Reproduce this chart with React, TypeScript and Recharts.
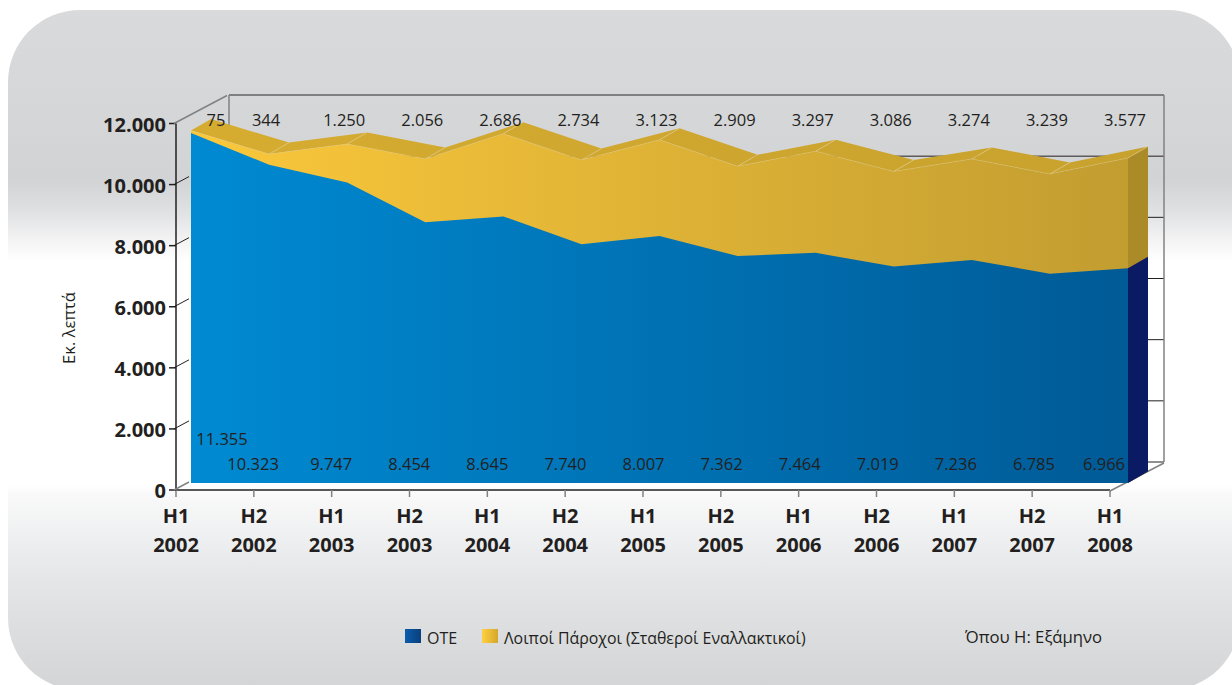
import { AreaChart, Area, LineChart, Line, XAxis, YAxis, CartesianGrid, ReferenceLine, LabelList } from 'recharts';

const halves = ['H1', 'H2', 'H1', 'H2', 'H1', 'H2', 'H1', 'H2', 'H1', 'H2', 'H1', 'H2', 'H1'];
const years = ['2002', '2002', '2003', '2003', '2004', '2004', '2005', '2005', '2006', '2006', '2007', '2007', '2008'];
const ote = [11355, 10323, 9747, 8454, 8645, 7740, 8007, 7362, 7464, 7019, 7236, 6785, 6966];
const others = [75, 344, 1250, 2056, 2686, 2734, 3123, 2909, 3297, 3086, 3274, 3239, 3577];
const yTicks = [0, 2000, 4000, 6000, 8000, 10000, 12000];

const W = 1232;
const H = 685;
const DEPTH_X = 20;
const DEPTH_Y = -11.5;
const RIBBON_BOTTOM = 483;
const TEXT = '#231f20';
const GREY = '#808285';
const FONT = '"Open Sans", sans-serif';

const data = ote.map((v, i) => ({
    key: `${halves[i]} ${years[i]} ${i}`,
    half: halves[i],
    year: years[i],
    ote: v,
    other: others[i],
    total: v + others[i],
}));

const fmt = (v: number) => String(v).replace(/\B(?=(\d{3})+$)/g, '.');

const layer: React.CSSProperties = { position: 'absolute', left: 0, top: 0 };

function YTick({ x, y, payload }: any) {
    const isTop = payload.value === 12000;
    const isZero = payload.value === 0;
    return (
        <g>
            <line
                x1={x + 7}
                y1={y}
                x2={x + 7 + (isTop ? 53 : 15)}
                y2={y + (isTop ? -28 : -8)}
                stroke={isTop || isZero ? GREY : TEXT}
                strokeWidth={isTop || isZero ? 1.5 : 1}
            />
            <text x={x - 1} y={y + 8} textAnchor="end" fontFamily={FONT} fontWeight={700} fontSize={20} fill={TEXT}>
                {fmt(payload.value)}
            </text>
        </g>
    );
}

function XTick({ x, y, payload, index }: any) {
    const row = data[index];
    if (!row) return null;
    return (
        <g>
            {index === data.length - 1 && <line x1={x} y1={y - 8} x2={x + 54} y2={y - 36} stroke={GREY} strokeWidth={1.5} />}
            <text x={x} y={y + 24} textAnchor="middle" fontFamily={FONT} fontWeight={700} fontSize={20} fill={TEXT}>
                {row.half}
            </text>
            <text x={x} y={y + 53} textAnchor="middle" fontFamily={FONT} fontWeight={700} fontSize={20} fill={TEXT}>
                {row.year}
            </text>
        </g>
    );
}

// top face of the extruded ribbon, one segment per point
function TopFace({ cx, cy, index, points }: any) {
    const next = points && points[index + 1];
    return (
        <g key={index}>
            {next && (
                <polygon
                    points={`${cx},${cy} ${next.x},${next.y} ${next.x + DEPTH_X},${next.y + DEPTH_Y} ${cx + DEPTH_X},${cy + DEPTH_Y}`}
                    fill="url(#topFace)"
                />
            )}
            {!next && (
                <polygon
                    points={`${cx},${cy} ${cx + DEPTH_X},${cy + DEPTH_Y} ${cx + DEPTH_X},${RIBBON_BOTTOM + DEPTH_Y} ${cx},${RIBBON_BOTTOM}`}
                    fill="#ab8a28"
                />
            )}
            {index > 0 && (
                <line x1={cx} y1={cy} x2={cx + DEPTH_X} y2={cy + DEPTH_Y} stroke="#e6cf8c" strokeWidth={0.6} />
            )}
        </g>
    );
}

function NavySide({ cx, cy, index, points }: any) {
    if (!points || index !== points.length - 1) return <g key={index} />;
    return (
        <polygon
            key={index}
            points={`${cx},${cy} ${cx + DEPTH_X},${cy + DEPTH_Y} ${cx + DEPTH_X},${RIBBON_BOTTOM + DEPTH_Y} ${cx},${RIBBON_BOTTOM}`}
            fill="#0a1a63"
        />
    );
}

function TopLabel({ x, index, value }: any) {
    const dx = index === 0 ? 25 : -3;
    return (
        <text x={x + dx} y={126} textAnchor="middle" fontFamily={FONT} fontSize={16.5} fill={TEXT}>
            {fmt(value)}
        </text>
    );
}

function BottomLabel({ x, index, value }: any) {
    const dx = index === 0 ? 31 : index === data.length - 1 ? -24 : -16;
    return (
        <text x={x + dx} y={index === 0 ? 445 : 470} textAnchor="middle" fontFamily={FONT} fontSize={16.5} fill={TEXT}>
            {fmt(value)}
        </text>
    );
}

export default function App() {
    return (
        <div style={{ position: 'absolute', left: 0, top: 0, width: W, height: H, overflow: 'hidden', background: '#fff' }}>
            <div
                style={{
                    position: 'absolute',
                    left: 8,
                    top: 10,
                    width: W,
                    height: 680,
                    borderRadius: 72,
                    background:
                        'linear-gradient(to bottom, #d9dadc 0%, #d5d6d8 16%, #d2d3d5 25%, #dfe0e1 29.4%, #f3f3f4 33.8%, #ffffff 37%, #ffffff 69.9%, #f9f9f9 71.3%, #f0f1f2 76.5%, #e6e7e8 83%, #dedfe0 89.7%, #d4d5d7 99.3%)',
                }}
            />

            {/* back wall */}
            <div style={layer}>
                <LineChart width={W} height={H} data={data} margin={{ left: 229, right: W - 1164, top: 95, bottom: H - 462 }}>
                    <XAxis dataKey="key" hide />
                    <YAxis hide domain={[0, 12000]} ticks={yTicks} />
                    <CartesianGrid vertical={false} stroke={TEXT} strokeWidth={1} />
                    <ReferenceLine y={12000} stroke={GREY} strokeWidth={1.5} />
                    <ReferenceLine x={data[0].key} stroke={GREY} strokeWidth={1.5} />
                    <ReferenceLine x={data[data.length - 1].key} stroke={GREY} strokeWidth={1.5} />
                    <Line dataKey="ote" stroke="none" dot={false} isAnimationActive={false} />
                </LineChart>
            </div>

            {/* front axes */}
            <div style={layer}>
                <LineChart width={W} height={H} data={data} margin={{ left: 96, right: W - 1110, top: 123.5, bottom: 135 }}>
                    <XAxis
                        dataKey="key"
                        height={60}
                        interval={0}
                        padding={{ left: 0, right: 0 }}
                        scale="point"
                        axisLine={{ stroke: TEXT, strokeWidth: 1.5 }}
                        tickLine={{ stroke: GREY, strokeWidth: 1.5 }}
                        tickSize={7}
                        tick={<XTick />}
                    />
                    <YAxis
                        width={80}
                        domain={[0, 12000]}
                        ticks={yTicks}
                        interval={0}
                        axisLine={{ stroke: TEXT, strokeWidth: 1.5 }}
                        tickLine={{ stroke: TEXT, strokeWidth: 1.5 }}
                        tickSize={7}
                        tick={<YTick />}
                    />
                    <Line dataKey="ote" stroke="none" dot={false} isAnimationActive={false} />
                </LineChart>
            </div>

            {/* ribbon top and side faces */}
            <div style={layer}>
                <LineChart width={W} height={H} data={data} margin={{ left: 191, right: W - 1128, top: 113, bottom: H - RIBBON_BOTTOM }}>
                    <defs>
                        <linearGradient id="topFace" gradientUnits="userSpaceOnUse" x1="191" y1="0" x2="1148" y2="0">
                            <stop offset="0%" stopColor="#d6ac30" />
                            <stop offset="100%" stopColor="#c8a22e" />
                        </linearGradient>
                    </defs>
                    <XAxis dataKey="key" hide scale="point" />
                    <YAxis hide domain={[0, 12000]} />
                    <Line dataKey="total" stroke="none" dot={<TopFace />} isAnimationActive={false} />
                    <Line dataKey="ote" stroke="none" dot={<NavySide />} isAnimationActive={false} />
                </LineChart>
            </div>

            {/* ribbon front face */}
            <div style={layer}>
                <AreaChart width={W} height={H} data={data} margin={{ left: 191, right: W - 1128, top: 113, bottom: H - RIBBON_BOTTOM }}>
                    <defs>
                        <linearGradient id="goldFront" x1="0" y1="0" x2="1" y2="0">
                            <stop offset="0%" stopColor="#fbc83b" />
                            <stop offset="100%" stopColor="#c29d30" />
                        </linearGradient>
                        <linearGradient id="blueFront" x1="0" y1="0" x2="1" y2="0">
                            <stop offset="0%" stopColor="#008ad2" />
                            <stop offset="100%" stopColor="#005a96" />
                        </linearGradient>
                    </defs>
                    <XAxis dataKey="key" hide scale="point" />
                    <YAxis hide domain={[0, 12000]} />
                    <Area type="linear" dataKey="total" stroke="#e6cf8c" strokeOpacity={0.45} strokeWidth={0.7} fill="url(#goldFront)" fillOpacity={1} isAnimationActive={false}>
                        <LabelList dataKey="other" content={<TopLabel />} />
                    </Area>
                    <Area type="linear" dataKey="ote" stroke="none" fill="url(#blueFront)" fillOpacity={1} isAnimationActive={false}>
                        <LabelList dataKey="ote" content={<BottomLabel />} />
                    </Area>
                </AreaChart>
            </div>

            <div
                style={{
                    position: 'absolute',
                    left: 68,
                    top: 328,
                    transform: 'translate(-50%, -50%) rotate(-90deg)',
                    fontFamily: FONT,
                    fontSize: 16.5,
                    color: TEXT,
                    whiteSpace: 'nowrap',
                }}
            >
                Εκ. λεπτά
            </div>

            <div style={{ position: 'absolute', left: 405, top: 629, width: 16, height: 14, background: 'linear-gradient(to right, #0b5cad, #0a3f7c)' }} />
            <div style={{ position: 'absolute', left: 427, top: 627, fontFamily: FONT, fontSize: 16, color: TEXT, whiteSpace: 'nowrap' }}>ΟΤΕ</div>
            <div style={{ position: 'absolute', left: 482, top: 629, width: 16, height: 14, background: 'linear-gradient(to right, #ffd040, #d4a72c)' }} />
            <div style={{ position: 'absolute', left: 504, top: 627, fontFamily: FONT, fontSize: 15.9, color: TEXT, whiteSpace: 'nowrap' }}>
                Λοιποί Πάροχοι (Σταθεροί Εναλλακτικοί)
            </div>
            <div style={{ position: 'absolute', left: 965, top: 625, fontFamily: FONT, fontSize: 16.7, color: TEXT, whiteSpace: 'nowrap' }}>
                Όπου Η: Εξάμηνο
            </div>
        </div>
    );
}
